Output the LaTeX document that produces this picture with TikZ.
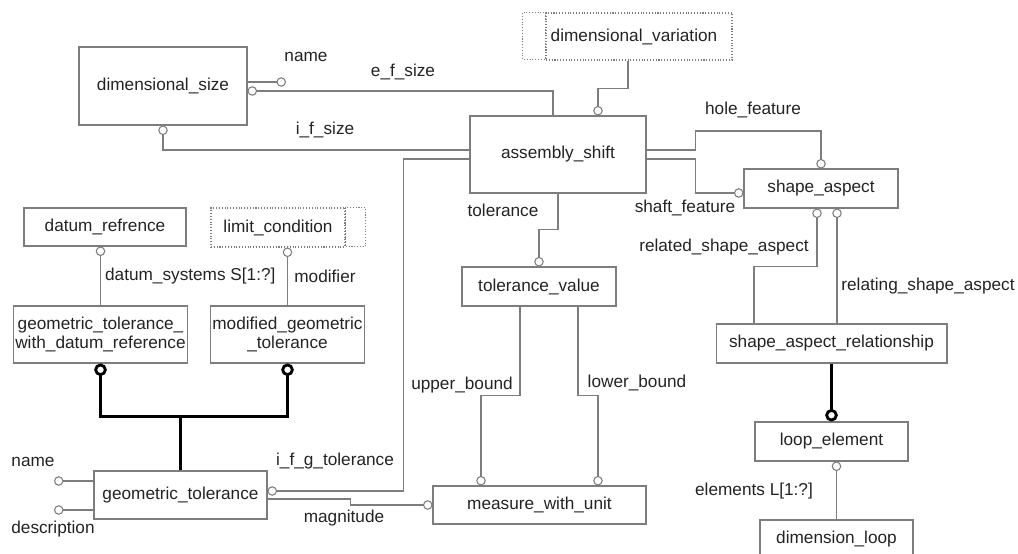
\documentclass[tikz,border=0pt]{standalone}
\usepackage{fontspec}
\setmainfont{Liberation Sans}
\usetikzlibrary{arrows.meta}
\definecolor{linegray}{RGB}{125,125,125}
\definecolor{textdark}{RGB}{35,35,35}
\begin{document}
\begin{tikzpicture}[x=0.02cm,y=-0.02cm,
  font=\fontsize{9.8pt}{10.8pt}\selectfont, text=textdark,
  entity/.style={draw=linegray, line width=0.6pt, inner sep=1pt, align=center},
  dashbox/.style={entity, densely dotted},
  dashline/.style={draw=linegray, line width=0.6pt, densely dotted},
  attr/.style={draw=linegray, line width=0.6pt, -{Circle[open,length=0.19cm]}},
  super/.style={draw=black, line width=1.6pt, -{Circle[open,length=0.25cm]}},
  lbl/.style={inner sep=1pt}]
\useasboundingbox (0,0) rectangle (1018,554);
\node[entity, minimum width=3.36cm, minimum height=1.56cm] (size) at (163,86) {dimensional\_size};
\node[dashbox, minimum width=3.72cm, minimum height=0.94cm] (var) at (639,36.5) {\hspace{-0.2cm}dimensional\_variation};
\draw[dashline] (var.north west) rectangle ++(-23,47);
\node[entity, minimum width=3.52cm, minimum height=1.54cm] (shift) at (558,154.5) {assembly\_shift};
\node[entity, minimum width=3.08cm, minimum height=0.78cm] (aspect) at (821,188.5) {shape\_aspect};
\node[entity, minimum width=3.24cm, minimum height=0.76cm] (dref) at (105,227) {datum\_refrence};
\node[dashbox, minimum width=2.68cm, minimum height=0.78cm] (limit) at (278,227.5) {limit\_condition};
\draw[dashline] (limit.north east) rectangle ++(20,39);
\node[entity, minimum width=3.08cm, minimum height=0.78cm] (tolval) at (539,286.5) {tolerance\_value};
\node[entity, minimum width=3.46cm, minimum height=1.14cm] (gwd) at (100.5,334.5) {geometric\_tolerance\_\\with\_datum\_reference};
\node[entity, minimum width=3.06cm, minimum height=1.14cm] (mgt) at (287.5,334.5) {modified\_geometric\\\_tolerance};
\node[entity, minimum width=4.62cm, minimum height=0.78cm] (rel) at (831.5,343.5) {shape\_aspect\_relationship};
\node[entity, minimum width=3.06cm, minimum height=0.78cm] (loop) at (831.5,441.5) {loop\_element};
\node[entity, minimum width=3.46cm, minimum height=0.96cm] (gtol) at (180.5,495) {geometric\_tolerance};
\node[entity, minimum width=4.26cm, minimum height=0.76cm] (unit) at (539.5,505) {measure\_with\_unit};
\node[entity, minimum width=3.06cm, minimum height=0.78cm] (dloop) at (836.5,539.5) {dimension\_loop};
\coordinate (nameend) at (286,82);
\coordinate (gname) at (54,481);
\coordinate (gdesc) at (54,510);
\draw[attr] (size.east |- nameend) -- (nameend);
\draw[attr] ([xshift=-0.1cm]shift.north) |- ([yshift=-0.1cm]size.east);
\draw[attr] ([yshift=0.09cm]shift.west) -| (size.south);
\draw[attr] ([xshift=-0.22cm]var.south) -- ++(0,28) -| ([xshift=0.8cm]shift.north);
\draw[attr] ([yshift=0.09cm]shift.east) -- ++(49,0) -- ++(0,-19) -| (aspect.north);
\draw[attr] ([yshift=-0.09cm]shift.east) -- ++(49,0) |- ([yshift=-0.09cm]aspect.west);
\draw[attr] (shift.south) -- ++(0,36) -| (tolval.north);
\draw[attr] ([xshift=-0.38cm]tolval.south) -- ++(0,89) -| ([xshift=-1.17cm]unit.north);
\draw[attr] ([xshift=0.78cm]tolval.south) -- ++(0,89) -| ([xshift=1.17cm]unit.north);
\draw[attr] ([yshift=-0.08cm]gtol.east) -- ++(83,0) |- (unit.west);
\draw[attr] ([yshift=-0.09cm]shift.west) -- ++(-66,0) |- ([yshift=0.08cm]gtol.east);
\draw[attr] (gwd.north) -- (gwd.north |- dref.south);
\draw[attr] (mgt.north) -- (mgt.north |- limit.south);
\draw[super] (gtol.north) -- ++(0,-54) -| (gwd.south);
\draw[super] (gtol.north) -- ++(0,-54) -| (mgt.south);
\draw[attr] (gtol.west |- gname) -- (gname);
\draw[attr] (gtol.west |- gdesc) -- (gdesc);
\draw[attr] ([xshift=-1.55cm]rel.north) -- ++(0,-57) -| ([xshift=-0.08cm]aspect.south);
\draw[attr] ([xshift=0.32cm]aspect.south |- rel.north) -- ([xshift=0.32cm]aspect.south);
\draw[super] (rel.south) -- (loop.north);
\draw[attr] (dloop.north) -- (dloop.north |- loop.south);
\node[lbl] (lname) at (306,57) {name};
\node[lbl] (lefsize) at (403,72) {e\_f\_size};
\node[lbl] (lifsize) at (325,130) {i\_f\_size};
\node[lbl] (lhole) at (753,110) {hole\_feature};
\node[lbl] (lshaft) at (685,208) {shaft\_feature};
\node[lbl] (ltol) at (503,210) {tolerance};
\node[lbl, anchor=west] (ldatum) at (103,276) {datum\_systems S[1:?]};
\node[lbl] (lmod) at (325,276) {modifier};
\node[lbl] (lrelated) at (724,247) {related\_shape\_aspect};
\node[lbl] (lrelating) at (928,286) {relating\_shape\_aspect};
\node[lbl] (lupper) at (462,385) {upper\_bound};
\node[lbl] (llower) at (637,383) {lower\_bound};
\node[lbl] (lelements) at (754,491) {elements L[1:?]};
\node[lbl] (lgname) at (33,462) {name};
\node[lbl] (lgdesc) at (53,529) {description};
\node[lbl] (lifg) at (335,461) {i\_f\_g\_tolerance};
\node[lbl] (lmag) at (344,518) {magnitude};
\end{tikzpicture}
\end{document}
